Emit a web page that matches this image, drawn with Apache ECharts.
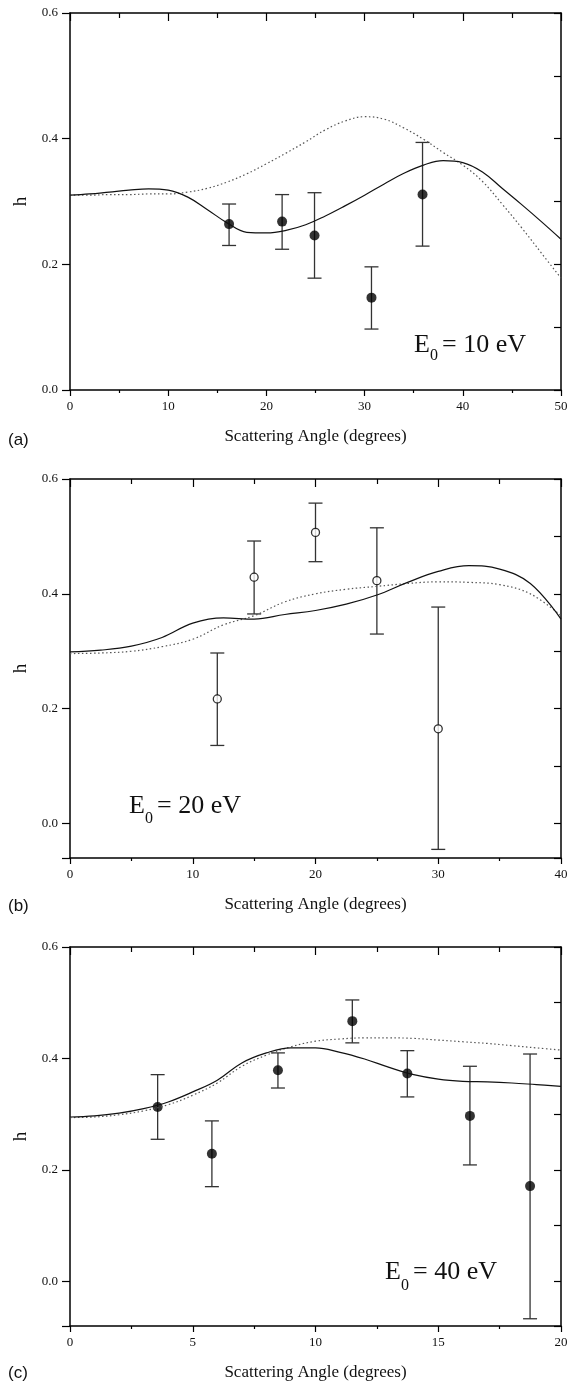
<!DOCTYPE html>
<html>
<head>
    <meta charset="utf-8">
    <title>h vs scattering angle</title>
    <script src="https://cdn.jsdelivr.net/npm/echarts@6/dist/echarts.min.js"></script>
    <style>
        html, body { margin: 0; padding: 0; background: #fff; }
        #chart { width: 571px; height: 1386px; }
    </style>
</head>
<body>
<div id="chart"></div>
<script type="text/javascript">
    // (a) E0 = 10 eV
    var anglesA = [0, 2, 4, 6, 8, 10, 12, 14, 16, 18, 20, 22, 24, 26, 28, 30, 32, 34, 36, 38, 40, 42, 44, 46, 48, 50];
    var solidA = [0.310, 0.312, 0.315, 0.318, 0.320, 0.318, 0.307, 0.287, 0.266, 0.251, 0.250, 0.254, 0.263, 0.277, 0.293, 0.310, 0.328, 0.345, 0.358, 0.365, 0.362, 0.347, 0.321, 0.295, 0.268, 0.240];
    var dottedA = [0.310, 0.310, 0.311, 0.311, 0.312, 0.312, 0.315, 0.321, 0.331, 0.344, 0.360, 0.377, 0.395, 0.414, 0.428, 0.435, 0.431, 0.417, 0.399, 0.378, 0.358, 0.332, 0.296, 0.258, 0.218, 0.178];
    var ptsAx = [16.2, 21.6, 24.9, 30.7, 35.9];
    var ptsAh = [0.264, 0.268, 0.246, 0.147, 0.311];
    var ptsAlo = [0.230, 0.224, 0.178, 0.097, 0.229];
    var ptsAhi = [0.296, 0.311, 0.314, 0.196, 0.394];

    // (b) E0 = 20 eV
    var anglesB = [0, 2.5, 5, 7.5, 10, 12.5, 15, 17.5, 20, 22.5, 25, 27.5, 30, 32.5, 35, 37.5, 40];
    var solidB = [0.299, 0.302, 0.309, 0.324, 0.349, 0.358, 0.356, 0.364, 0.371, 0.382, 0.398, 0.420, 0.439, 0.449, 0.443, 0.418, 0.356];
    var dottedB = [0.296, 0.297, 0.300, 0.308, 0.321, 0.346, 0.362, 0.386, 0.400, 0.408, 0.413, 0.418, 0.421, 0.420, 0.416, 0.400, 0.362];
    var ptsBx = [12, 15, 20, 25, 30];
    var ptsBh = [0.217, 0.429, 0.507, 0.423, 0.165];
    var ptsBlo = [0.136, 0.365, 0.456, 0.330, -0.045];
    var ptsBhi = [0.297, 0.492, 0.558, 0.515, 0.377];

    // (c) E0 = 40 eV
    var anglesC = [0, 1, 2, 3, 4, 5, 6, 7, 8, 9, 10, 11, 12, 13, 14, 15, 16, 17, 18, 19, 20];
    var solidC = [0.295, 0.297, 0.302, 0.310, 0.322, 0.340, 0.361, 0.392, 0.410, 0.419, 0.419, 0.411, 0.399, 0.384, 0.371, 0.363, 0.359, 0.358, 0.356, 0.353, 0.350];
    var dottedC = [0.294, 0.295, 0.299, 0.306, 0.317, 0.334, 0.356, 0.386, 0.406, 0.421, 0.431, 0.435, 0.437, 0.437, 0.436, 0.433, 0.430, 0.427, 0.423, 0.419, 0.415];
    var ptsCx = [3.57, 5.78, 8.47, 11.5, 13.74, 16.29, 18.74];
    var ptsCh = [0.313, 0.229, 0.379, 0.467, 0.373, 0.297, 0.171];
    var ptsClo = [0.255, 0.170, 0.347, 0.428, 0.331, 0.209, -0.067];
    var ptsChi = [0.371, 0.288, 0.410, 0.505, 0.414, 0.386, 0.408];

    var SERIF = '"Liberation Serif", "Times New Roman", serif';
    var INK = '#111';

    var panels = [
        {top: 13, height: 377, xMax: 50, xStep: 10, yMin: 0, angles: anglesA, solid: solidA, dotted: dottedA,
            px: ptsAx, ph: ptsAh, lo: ptsAlo, hi: ptsAhi, open: false},
        {top: 479, height: 379, xMax: 40, xStep: 10, yMin: -0.06, angles: anglesB, solid: solidB, dotted: dottedB,
            px: ptsBx, ph: ptsBh, lo: ptsBlo, hi: ptsBhi, open: true},
        {top: 947, height: 379, xMax: 20, xStep: 5, yMin: -0.08, angles: anglesC, solid: solidC, dotted: dottedC,
            px: ptsCx, ph: ptsCh, lo: ptsClo, hi: ptsChi, open: false}
    ];

    function yLabel(v) {
        var k = v / 0.2;
        return Math.abs(k - Math.round(k)) < 1e-6 ? v.toFixed(1) : '';
    }

    function pairs(xs, ys) {
        return xs.map(function (x, i) { return [x, ys[i]]; });
    }

    function errorBar(params, api) {
        var x = api.value(0);
        var top = api.coord([x, api.value(3)]);
        var bot = api.coord([x, api.value(2)]);
        var w = 7;
        var st = {stroke: '#333', lineWidth: 1.3};
        return {
            type: 'group',
            children: [
                {type: 'line', shape: {x1: top[0], y1: top[1], x2: bot[0], y2: bot[1]}, style: st},
                {type: 'line', shape: {x1: top[0] - w, y1: top[1], x2: top[0] + w, y2: top[1]}, style: st},
                {type: 'line', shape: {x1: bot[0] - w, y1: bot[1], x2: bot[0] + w, y2: bot[1]}, style: st}
            ]
        };
    }

    var grids = [], xAxes = [], yAxes = [], series = [];
    var axisLine = {onZero: false, lineStyle: {color: '#000', width: 1.5}};
    var tickLine = {color: '#000', width: 1.2};

    panels.forEach(function (p, i) {
        grids.push({left: 70, right: 10, top: p.top, height: p.height});

        xAxes.push({
            type: 'value', gridIndex: i, position: 'bottom', min: 0, max: p.xMax, interval: p.xStep,
            name: 'Scattering Angle (degrees)', nameLocation: 'middle', nameGap: 38,
            nameTextStyle: {fontFamily: SERIF, fontSize: 17, color: INK},
            axisLine: axisLine,
            axisTick: {length: 6, lineStyle: tickLine},
            minorTick: {show: true, splitNumber: 2, length: 3, lineStyle: tickLine},
            splitLine: {show: false},
            axisLabel: {margin: 10, fontFamily: SERIF, fontSize: 13, color: INK}
        });
        xAxes.push({
            type: 'value', gridIndex: i, position: 'top', min: 0, max: p.xMax, interval: p.xStep,
            axisLine: axisLine,
            axisTick: {inside: true, length: 8, lineStyle: tickLine},
            minorTick: {show: true, splitNumber: 2, length: 5, lineStyle: tickLine},
            splitLine: {show: false},
            axisLabel: {show: false}
        });

        yAxes.push({
            type: 'value', gridIndex: i, position: 'left', min: p.yMin, max: 0.6,
            splitNumber: 3, minInterval: 0.2, maxInterval: 0.2,
            name: 'h', nameLocation: 'middle', nameGap: 36, nameRotate: 90,
            nameTextStyle: {fontFamily: SERIF, fontSize: 19, color: INK},
            axisLine: axisLine,
            axisTick: {length: 8, lineStyle: tickLine},
            splitLine: {show: false},
            axisLabel: {margin: 12, fontFamily: SERIF, fontSize: 13, color: INK, formatter: yLabel}
        });
        yAxes.push({
            type: 'value', gridIndex: i, position: 'right', min: p.yMin, max: 0.6,
            splitNumber: 7, minInterval: 0.1, maxInterval: 0.1,
            axisLine: axisLine,
            axisTick: {inside: true, length: 7, lineStyle: tickLine},
            splitLine: {show: false},
            axisLabel: {show: false}
        });

        var xi = 2 * i, yi = 2 * i;
        series.push({
            type: 'line', xAxisIndex: xi, yAxisIndex: yi, data: pairs(p.angles, p.dotted),
            smooth: 0.4, showSymbol: false, lineStyle: {color: '#555', width: 1.2, type: [1.5, 2.5]}
        });
        series.push({
            type: 'line', xAxisIndex: xi, yAxisIndex: yi, data: pairs(p.angles, p.solid),
            smooth: 0.4, showSymbol: false, lineStyle: {color: INK, width: 1.2}
        });
        series.push({
            type: 'custom', xAxisIndex: xi, yAxisIndex: yi, renderItem: errorBar,
            data: p.px.map(function (x, k) { return [x, p.ph[k], p.lo[k], p.hi[k]]; })
        });
        series.push({
            type: 'scatter', xAxisIndex: xi, yAxisIndex: yi, data: pairs(p.px, p.ph),
            symbol: 'circle', symbolSize: p.open ? 8 : 10,
            itemStyle: p.open ? {color: '#fff', borderColor: '#000', borderWidth: 1.3} : {color: '#000'}
        });
    });

    function energyLabel(x, y, subDy, text) {
        return [
            {type: 'text', x: x, y: y, style: {text: 'E', fontFamily: SERIF, fontSize: 26, fill: INK, verticalAlign: 'middle'}},
            {type: 'text', x: x + 16, y: y + subDy, style: {text: '0', fontFamily: SERIF, fontSize: 16, fill: INK, verticalAlign: 'middle'}},
            {type: 'text', x: x + 28, y: y, style: {text: text, fontFamily: SERIF, fontSize: 26, fill: INK, verticalAlign: 'middle'}}
        ];
    }

    var panelTag = function (t, y) {
        return {type: 'text', x: 8, y: y, style: {text: t, fontFamily: '"Liberation Sans", Arial, sans-serif', fontSize: 17, fill: INK, verticalAlign: 'middle'}};
    };

    var graphic = [panelTag('(a)', 440), panelTag('(b)', 906), panelTag('(c)', 1373)]
        .concat(energyLabel(414, 345, 11, '= 10 eV'))
        .concat(energyLabel(129, 806, 13, '= 20 eV'))
        .concat(energyLabel(385, 1272, 14, '= 40 eV'));

    var myChart = echarts.init(document.getElementById('chart'));
    myChart.setOption({
        animation: false,
        grid: grids,
        xAxis: xAxes,
        yAxis: yAxes,
        series: series,
        graphic: graphic
    });
</script>
</body>
</html>
